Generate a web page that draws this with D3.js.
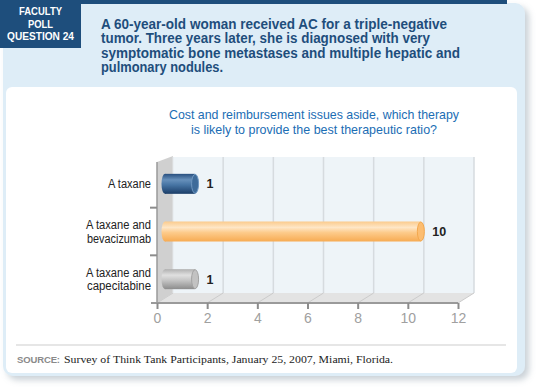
<!DOCTYPE html>
<html lang="en">
<head>
<meta charset="utf-8">
<title>Faculty poll 24</title>
<script src="https://d3js.org/d3.v7.min.js"></script>
<style>
  body { margin: 0; background: #fff; }
  svg text { font-family: "Liberation Sans", Arial, sans-serif; }
  .xaxis path { display: none; }
  .xaxis line { stroke: #8c8c8c; stroke-width: 2; }
  .xaxis text { fill: #a0a0a0; font-size: 14px; }
</style>
</head>
<body>
<div id="viz"></div>
<script>
// data
var categories = ["A taxane", "A taxane and bevacizumab", "A taxane and capecitabine"];
var labelLines = [["A taxane"], ["A taxane and", "bevacizumab"], ["A taxane and", "capecitabine"]];
var values = [1, 10, 1];
var xTicks = [0, 2, 4, 6, 8, 10, 12];
var questionLines = [
  "A 60-year-old woman received AC for a triple-negative",
  "tumor. Three years later, she is diagnosed with very",
  "symptomatic bone metastases and multiple hepatic and",
  "pulmonary nodules."
];
var subtitleLines = [
  "Cost and reimbursement issues aside, which therapy",
  "is likely to provide the best therapeutic ratio?"
];

var W = 540, H = 387;
var svg = d3.select("#viz").append("svg").attr("width", W).attr("height", H);
var defs = svg.append("defs");

var sh = defs.append("filter").attr("id", "shadow").attr("x", "-5%").attr("y", "-5%").attr("width", "115%").attr("height", "115%");
sh.append("feDropShadow").attr("dx", 4).attr("dy", 4).attr("stdDeviation", 3)
  .attr("flood-color", "#8a9aa6").attr("flood-opacity", 0.45);

// card
svg.append("rect").attr("x", 3).attr("y", 3).attr("width", 522).attr("height", 373)
  .attr("rx", 10).attr("fill", "#deedf7").attr("filter", "url(#shadow)");
svg.append("rect").attr("x", 81).attr("y", 0).attr("width", 426).attr("height", 4).attr("fill", "#1e4e7c");
svg.append("rect").attr("x", 0).attr("y", 0).attr("width", 81).attr("height", 48).attr("fill", "#1e4e7c");
svg.append("rect").attr("x", 6).attr("y", 87).attr("width", 511).attr("height", 286)
  .attr("rx", 6).attr("fill", "#ffffff");

// poll box text
[["FACULTY", 15, 43], ["POLL", 27.5, 25], ["QUESTION 24", 40, 67]].forEach(function(d) {
  svg.append("text").attr("x", 40.5).attr("y", d[1]).attr("text-anchor", "middle")
    .attr("fill", "#fff").style("font-size", "11.5px").style("font-weight", "bold")
    .attr("textLength", d[2]).attr("lengthAdjust", "spacingAndGlyphs").text(d[0]);
});

// question
var qWidths = [346, 329, 359, 122];
questionLines.forEach(function(t, i) {
  svg.append("text").attr("x", 101).attr("y", 28.5 + i * 14.6)
    .attr("fill", "#1e4e7c").style("font-size", "14.5px").style("font-weight", "bold")
    .attr("textLength", qWidths[i]).attr("lengthAdjust", "spacingAndGlyphs").text(t);
});

// subtitle
var sWidths = [290, 246];
subtitleLines.forEach(function(t, i) {
  svg.append("text").attr("x", 314).attr("y", 118.5 + i * 15).attr("text-anchor", "middle")
    .attr("fill", "#1b6db4").style("font-size", "13px")
    .attr("textLength", sWidths[i]).attr("lengthAdjust", "spacingAndGlyphs").text(t);
});

// 3D plot
var dx = 16, dy = -10;
var x = d3.scaleLinear().domain([0, 12]).range([157, 458]);
var y = d3.scaleBand().domain(categories).range([160, 303]);
var yFloor = 303, yTop = 157;

var plot = svg.append("g");
// back wall
plot.append("rect").attr("x", x(0) + dx).attr("y", yTop)
  .attr("width", x(12) - x(0)).attr("height", yFloor + dy - yTop).attr("fill", "#eef4f8");
plot.selectAll(".grid").data(xTicks.slice(1)).enter().append("line")
  .attr("x1", function(d) { return x(d) + dx; }).attr("x2", function(d) { return x(d) + dx; })
  .attr("y1", yTop).attr("y2", yFloor + dy)
  .attr("stroke", "#d6dbdf").attr("stroke-width", 1.5);
// floor
plot.append("polygon")
  .attr("points", [[x(0), yFloor], [x(12), yFloor], [x(12) + dx, yFloor + dy], [x(0) + dx, yFloor + dy]].join(" "))
  .attr("fill", "#e3e3e3");
plot.selectAll(".fgrid").data(xTicks).enter().append("line")
  .attr("x1", function(d) { return x(d); }).attr("y1", yFloor)
  .attr("x2", function(d) { return x(d) + dx; }).attr("y2", yFloor + dy)
  .attr("stroke", "#cbcbcb").attr("stroke-width", 1);
// left wall
plot.append("polygon")
  .attr("points", [[x(0), 162], [x(0) + dx, yTop - 1], [x(0) + dx, yFloor + dy], [x(0), yFloor]].join(" "))
  .attr("fill", "#d0d0d0");
plot.append("line").attr("x1", x(0) + dx).attr("x2", x(0) + dx).attr("y1", yTop).attr("y2", yFloor + dy)
  .attr("stroke", "#e4e8eb").attr("stroke-width", 1);

// axes
plot.append("line").attr("x1", x(0)).attr("x2", x(0)).attr("y1", 162).attr("y2", yFloor)
  .attr("stroke", "#9a9a9a").attr("stroke-width", 1.5);
plot.append("line").attr("x1", 151).attr("x2", x(12)).attr("y1", yFloor).attr("y2", yFloor)
  .attr("stroke", "#9a9a9a").attr("stroke-width", 2);
plot.selectAll(".sep").data(categories.slice(1)).enter().append("line")
  .attr("x1", 150).attr("x2", x(0))
  .attr("y1", function(d) { return y(d); }).attr("y2", function(d) { return y(d); })
  .attr("stroke", "#8c8c8c").attr("stroke-width", 2);
plot.append("g").attr("class", "xaxis").attr("transform", "translate(0," + yFloor + ")")
  .call(d3.axisBottom(x).tickValues(xTicks).tickSize(6).tickPadding(4));

// bar gradients
var palettes = [
  { id: "gBlue", stops: ["#284f7f", "#6790bb", "#4775a4", "#1b3d68"], cap: "#3e6b9a", edge: "#6f97c1" },
  { id: "gOrange", stops: ["#fbcb8d", "#fee6c6", "#fdcb8b", "#f7ab52"], cap: "#fcbd71", edge: "#f4a84d" },
  { id: "gGray", stops: ["#b0b0b0", "#e0e0e0", "#c6c6c6", "#8c8c8c"], cap: "#c2c2c2", edge: "#a2a2a2" }
];
palettes.forEach(function(p) {
  var g = defs.append("linearGradient").attr("id", p.id).attr("x1", 0).attr("y1", 0).attr("x2", 0).attr("y2", 1);
  [0, 0.3, 0.55, 1].forEach(function(o, i) {
    g.append("stop").attr("offset", o).attr("stop-color", p.stops[i]);
  });
});

var barH = 20, rxE = 3.5;
var bars = plot.selectAll(".bar").data(values).enter().append("g");
bars.append("ellipse")
  .attr("cx", x(0) + 8).attr("cy", function(d, i) { return y(categories[i]) + y.bandwidth() / 2; })
  .attr("rx", rxE).attr("ry", barH / 2)
  .attr("fill", function(d, i) { return "url(#" + palettes[i].id + ")"; });
bars.append("rect")
  .attr("x", x(0) + 8).attr("y", function(d, i) { return y(categories[i]) + y.bandwidth() / 2 - barH / 2; })
  .attr("width", function(d) { return x(d) + 13 - (x(0) + 8); }).attr("height", barH)
  .attr("fill", function(d, i) { return "url(#" + palettes[i].id + ")"; });
bars.append("ellipse")
  .attr("cx", function(d) { return x(d) + 13; })
  .attr("cy", function(d, i) { return y(categories[i]) + y.bandwidth() / 2; })
  .attr("rx", rxE).attr("ry", barH / 2 - 0.5)
  .attr("fill", function(d, i) { return palettes[i].cap; })
  .attr("stroke", function(d, i) { return palettes[i].edge; }).attr("stroke-width", 1);
bars.append("text")
  .attr("x", function(d) { return x(d) + 13 + rxE + 8; })
  .attr("y", function(d, i) { return y(categories[i]) + y.bandwidth() / 2 + 4.5; })
  .attr("fill", "#222").style("font-size", "12.5px").style("font-weight", "bold")
  .text(function(d) { return d; });

// category labels
var labelWidths = [[43], [65, 64], [65, 64]];
labelLines.forEach(function(lines, i) {
  var cy = y(categories[i]) + y.bandwidth() / 2;
  lines.forEach(function(t, j) {
    plot.append("text").attr("x", 151).attr("y", cy + 4.5 + (j - (lines.length - 1) / 2) * 13.5)
      .attr("text-anchor", "end").attr("fill", "#222").style("font-size", "12.5px")
      .attr("textLength", labelWidths[i][j]).attr("lengthAdjust", "spacingAndGlyphs").text(t);
  });
});

// source
svg.append("line").attr("x1", 16).attr("x2", 506).attr("y1", 345).attr("y2", 345)
  .attr("stroke", "#e6e6e6").attr("stroke-width", 2);
svg.append("text").attr("x", 17).attr("y", 363).attr("fill", "#8a8a8a")
  .style("font-size", "9.5px").style("font-weight", "bold")
  .attr("textLength", 43).attr("lengthAdjust", "spacing").text("SOURCE:");
svg.append("text").attr("x", 64).attr("y", 363).attr("fill", "#222")
  .style("font-family", "'Liberation Serif', serif").style("font-size", "11px")
  .attr("textLength", 329).attr("lengthAdjust", "spacingAndGlyphs")
  .text("Survey of Think Tank Participants, January 25, 2007, Miami, Florida.");
</script>
</body>
</html>
